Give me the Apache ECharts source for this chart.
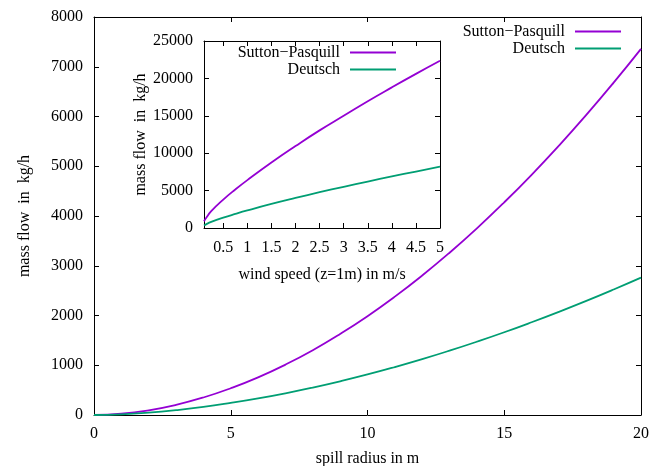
<!DOCTYPE html>
<html>
<head>
<meta charset="utf-8">
<script src="https://cdn.jsdelivr.net/npm/echarts@6/dist/echarts.min.js"></script>
<style>
  html, body { margin: 0; padding: 0; background: #fff; }
  #chart { width: 653px; height: 466px; }
</style>
</head>
<body>
<div id="chart"></div>
<script>
// Evaporating mass flow of a pool spill: main plot vs. spill radius,
// inset vs. wind speed, for the Sutton–Pasquill and Deutsch models.

const radius = [0, 1, 2, 3, 4, 5, 6, 7, 8, 9, 10, 11, 12, 13, 14, 15, 16, 17, 18, 19, 20];
const suttonByRadius = [0, 26, 95, 204, 352, 538, 757, 1013, 1303, 1629, 1987, 2379, 2804, 3262, 3752, 4275, 4829, 5415, 6032, 6681, 7360];
const deutschByRadius = [0, 14, 48, 98, 162, 243, 334, 437, 552, 678, 815, 964, 1123, 1293, 1473, 1663, 1864, 2074, 2293, 2522, 2760];

const windSpeed = [0.1, 0.15, 0.25, 0.5, 0.75, 1, 1.5, 2, 2.5, 3, 3.5, 4, 4.5, 5];
const suttonByWind = [900, 1400, 2250, 3800, 5150, 6400, 8750, 10950, 13050, 15000, 16950, 18800, 20600, 22350];
const deutschByWind = [330, 520, 810, 1380, 1880, 2350, 3220, 4020, 4780, 5510, 6210, 6890, 7550, 8200];

const windTicks = [0.5, 1, 1.5, 2, 2.5, 3, 3.5, 4, 4.5, 5];

const seriesNames = ['Sutton\u2212Pasquill', 'Deutsch'];
const seriesColors = ['#9400d3', '#009e73'];

const FONT = '"Liberation Serif", "Times New Roman", serif';
const INK = '#000';

const textStyle = { fontFamily: FONT, fontSize: 16, color: INK };
const plainNumber = v => String(v);

function frameAxis(extra) {
  return Object.assign({
    type: 'value',
    axisLine: { show: true, onZero: false, lineStyle: { color: INK, width: 1 } },
    axisTick: { show: true, inside: true, length: 5, lineStyle: { color: INK, width: 1 } },
    axisLabel: Object.assign({ show: true, formatter: plainNumber }, textStyle),
    splitLine: { show: false },
    nameTextStyle: textStyle
  }, extra);
}

function mirrorAxis(extra) {
  const a = frameAxis(extra);
  a.axisLabel = { show: false };
  a.name = '';
  return a;
}

function pairs(xs, ys) {
  return xs.map((x, i) => [x, ys[i]]);
}

function curve(name, color, xIdx, yIdx, xs, ys) {
  return {
    type: 'line',
    name: name,
    xAxisIndex: xIdx,
    yAxisIndex: yIdx,
    data: pairs(xs, ys),
    symbol: 'none',
    showSymbol: false,
    smooth: true,
    lineStyle: { color: color, width: 1.8 },
    itemStyle: { color: color },
    emphasis: { disabled: true }
  };
}

function legendBlock(right, top) {
  return {
    data: seriesNames,
    orient: 'vertical',
    align: 'right',
    right: right,
    top: top,
    padding: 0,
    icon: 'rect',
    itemWidth: 46,
    itemHeight: 2,
    itemGap: 0,
    selectedMode: false,
    textStyle: Object.assign({ lineHeight: 17, padding: [0, 5, 0, 0] }, textStyle)
  };
}

const chart = echarts.init(document.getElementById('chart'), null, { renderer: 'canvas' });

chart.setOption({
  animation: false,
  backgroundColor: '#fff',
  grid: [
    { left: 94, top: 17, width: 547, height: 398, containLabel: false, outerBoundsMode: 'none' },
    { left: 204, top: 41, width: 236, height: 187, containLabel: false, outerBoundsMode: 'none' }
  ],
  xAxis: [
    frameAxis({
      gridIndex: 0, position: 'bottom', min: 0, max: 20, interval: 5,
      axisLabel: Object.assign({ margin: 11, formatter: plainNumber }, textStyle),
      name: 'spill radius in m', nameLocation: 'middle', nameGap: 36
    }),
    mirrorAxis({ gridIndex: 0, position: 'top', min: 0, max: 20, interval: 5 }),
    frameAxis({
      gridIndex: 1, position: 'bottom', min: 0.1, max: 5,
      axisTick: { show: true, inside: true, length: 5, customValues: windTicks, lineStyle: { color: INK, width: 1 } },
      axisLabel: Object.assign({ margin: 12, customValues: windTicks, formatter: plainNumber }, textStyle),
      name: 'wind speed (z=1m) in m/s', nameLocation: 'middle', nameGap: 39
    }),
    mirrorAxis({
      gridIndex: 1, position: 'top', min: 0.1, max: 5,
      axisTick: { show: true, inside: true, length: 5, customValues: windTicks, lineStyle: { color: INK, width: 1 } }
    })
  ],
  yAxis: [
    frameAxis({
      gridIndex: 0, position: 'left', min: 0, max: 8000, interval: 1000,
      axisLabel: Object.assign({ margin: 11, formatter: plainNumber }, textStyle),
      name: 'mass flow  in  kg/h', nameLocation: 'middle', nameGap: 61
    }),
    mirrorAxis({ gridIndex: 0, position: 'right', min: 0, max: 8000, interval: 1000 }),
    frameAxis({
      gridIndex: 1, position: 'left', min: 0, max: 25000, interval: 5000,
      axisLabel: Object.assign({ margin: 11, formatter: plainNumber }, textStyle),
      name: 'mass flow  in  kg/h', nameLocation: 'middle', nameGap: 55
    }),
    mirrorAxis({ gridIndex: 1, position: 'right', min: 0, max: 25000, interval: 5000 })
  ],
  legend: [legendBlock(32, 23), legendBlock(257, 44)],
  series: [
    curve(seriesNames[0], seriesColors[0], 0, 0, radius, suttonByRadius),
    curve(seriesNames[1], seriesColors[1], 0, 0, radius, deutschByRadius),
    curve(seriesNames[0], seriesColors[0], 2, 2, windSpeed, suttonByWind),
    curve(seriesNames[1], seriesColors[1], 2, 2, windSpeed, deutschByWind)
  ]
});
</script>
</body>
</html>
